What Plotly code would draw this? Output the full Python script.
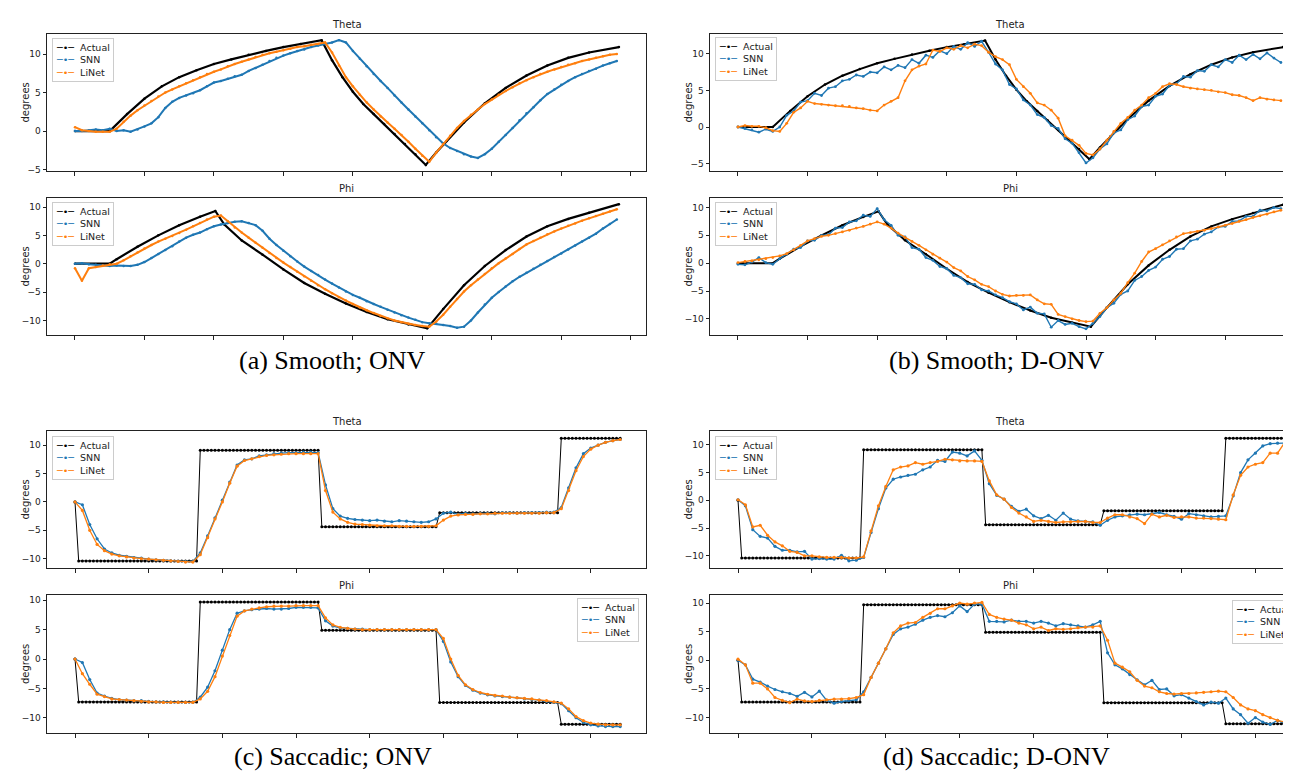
import plotly.graph_objects as go

# ------------------------------------------------------------------ data
# sample positions (x in tick units)
smooth_x = [round(i * 0.1, 1) for i in range(79)]
sacc_x = [round(i * 0.1, 1) for i in range(75)]
sacc_actual_x = [round(i * 0.05, 2) for i in range(149)]

# smooth pursuit ground truth (vertices)
smooth_theta_actual_x = [0, 0.5, 0.75, 1.0, 1.25, 1.5, 1.75, 2.0, 2.25, 2.5, 2.75, 3.0, 3.25, 3.55, 3.7, 3.85,
                         4.0, 4.15, 4.3, 4.45, 4.6, 4.75, 4.9, 5.05, 5.2, 5.35, 5.6, 5.9, 6.2, 6.5, 6.8, 7.1,
                         7.4, 7.83]
smooth_theta_actual = [0, 0, 2.2, 4.2, 5.8, 7.0, 7.9, 8.7, 9.3, 9.9, 10.4, 10.9, 11.3, 11.8, 9.2, 7.0,
                       5.1, 3.5, 2.2, 0.9, -0.4, -1.7, -3.0, -4.4, -2.8, -1.3, 1.1, 3.6, 5.6, 7.2, 8.5, 9.5,
                       10.2, 10.9]
smooth_phi_actual_x = [0, 0.5, 0.6, 0.9, 1.2, 1.5, 1.8, 2.02, 2.15, 2.4, 2.7, 3.0, 3.3, 3.6, 3.9, 4.2, 4.5,
                       4.8, 5.07, 5.3, 5.6, 5.9, 6.2, 6.5, 6.8, 7.1, 7.4, 7.83]
smooth_phi_actual = [0, 0, 0.8, 3.0, 5.0, 6.8, 8.3, 9.3, 6.9, 4.1, 1.6, -1.0, -3.4, -5.3, -7.0, -8.5, -9.8,
                     -10.7, -11.4, -8.0, -3.8, -0.4, 2.4, 4.8, 6.6, 7.9, 9.0, 10.5]

# (a) Smooth; ONV
a_theta_snn = [0.0, 0.0, 0.1, 0.2, 0.1, 0.3, 0.0, 0.1, -0.1, 0.2,
               0.6, 1.0, 1.8, 3.0, 3.8, 4.3, 4.6, 4.9, 5.3, 5.8,
               6.3, 6.5, 6.8, 7.1, 7.3, 7.8, 8.2, 8.6, 9.1, 9.5,
               9.8, 10.1, 10.4, 10.6, 10.9, 11.1, 11.3, 11.5, 11.8, 11.5,
               10.4, 9.4, 8.4, 7.4, 6.5, 5.6, 4.6, 3.7, 2.8, 1.9,
               1.0, 0.1, -0.8, -1.6, -2.2, -2.6, -3.0, -3.3, -3.5, -3.0,
               -2.3, -1.4, -0.5, 0.4, 1.4, 2.3, 3.1, 4.0, 4.8, 5.4,
               6.0, 6.5, 7.0, 7.4, 7.8, 8.1, 8.5, 8.8, 9.1]
a_theta_linet = [0.5, 0.1, 0.0, -0.1, -0.1, -0.1, 0.3, 1.2, 2.0, 2.7,
                 3.3, 3.9, 4.5, 5.0, 5.4, 5.8, 6.2, 6.6, 7.0, 7.4,
                 7.7, 8.0, 8.4, 8.7, 9.0, 9.3, 9.6, 9.9, 10.1, 10.3,
                 10.5, 10.7, 10.9, 11.0, 11.2, 11.3, 11.5, 10.2, 8.5, 7.0,
                 5.8, 4.7, 3.7, 2.8, 1.9, 1.1, 0.3, -0.5, -1.4, -2.3,
                 -3.2, -4.0, -2.8, -1.7, -0.6, 0.4, 1.3, 2.1, 2.8, 3.5,
                 4.1, 4.7, 5.2, 5.7, 6.2, 6.6, 7.0, 7.4, 7.7, 8.0,
                 8.3, 8.6, 8.8, 9.1, 9.3, 9.5, 9.7, 9.9, 10.0]
a_phi_snn = [0.0, 0.1, -0.1, -0.2, -0.3, -0.4, -0.3, -0.4, -0.4, -0.2,
             0.3, 1.0, 1.7, 2.4, 3.1, 3.9, 4.6, 5.1, 5.5, 6.1,
             6.6, 6.9, 7.2, 7.4, 7.5, 7.2, 6.8, 5.8, 4.4, 3.3,
             2.3, 1.3, 0.4, -0.5, -1.3, -2.0, -2.8, -3.5, -4.2, -4.9,
             -5.5, -6.0, -6.6, -7.1, -7.6, -8.1, -8.6, -9.1, -9.5, -9.9,
             -10.3, -10.5, -10.6, -10.8, -11.0, -11.3, -11.1, -10.0, -8.6, -7.2,
             -6.0, -5.0, -4.0, -3.1, -2.3, -1.6, -0.9, -0.2, 0.5, 1.2,
             1.8, 2.5, 3.2, 3.9, 4.6, 5.3, 6.2, 7.0, 7.8]
a_phi_linet = [-0.8, -3.0, -0.8, -0.6, -0.3, -0.1, 0.0, 0.6, 1.3, 2.0,
               2.7, 3.3, 3.9, 4.4, 4.9, 5.4, 6.0, 6.6, 7.2, 7.8,
               8.3, 8.5, 7.5, 6.4, 5.5, 4.6, 3.7, 2.8, 1.9, 1.0,
               0.2, -0.6, -1.4, -2.2, -3.0, -3.8, -4.5, -5.2, -5.9, -6.5,
               -7.1, -7.7, -8.2, -8.7, -9.2, -9.6, -10.0, -10.3, -10.6, -10.8,
               -11.0, -11.1, -10.2, -9.0, -7.6, -6.2, -4.9, -3.8, -2.8, -1.8,
               -0.8, 0.1, 0.9, 1.7, 2.6, 3.4, 4.0, 4.6, 5.2, 5.7,
               6.2, 6.7, 7.1, 7.6, 8.0, 8.4, 8.8, 9.2, 9.6]

# (b) Smooth; D-ONV
b_theta_snn = [0.0, -0.2, -0.4, -0.7, -0.3, -0.6, 0.0, 1.6, 2.2, 3.4,
               3.6, 4.6, 4.3, 5.3, 5.5, 6.3, 6.5, 7.1, 6.9, 7.5,
               7.4, 8.2, 7.8, 8.4, 8.1, 9.2, 8.7, 9.8, 9.5, 10.4,
               10.0, 11.0, 10.6, 11.5, 11.0, 11.7, 10.2, 8.6, 7.8, 5.8,
               5.2, 3.7, 3.0, 1.7, 1.3, 0.2, -0.2, -1.6, -2.2, -3.5,
               -4.9, -4.2, -3.0, -2.3, -0.8, -0.4, 1.0, 1.5, 2.8, 3.0,
               4.2, 4.5, 5.7, 5.9, 6.9, 6.8, 7.7, 7.6, 8.5, 8.2,
               9.2, 8.8, 9.8, 9.2, 9.9, 9.3, 10.1, 9.4, 8.8]
b_theta_linet = [0.0, 0.2, 0.1, 0.1, -0.1, -0.5, -0.6, 0.5, 2.0, 2.6,
                 3.5, 3.2, 3.1, 3.0, 2.9, 2.9, 2.8, 2.6, 2.5, 2.3,
                 2.2, 3.0, 3.5, 4.0, 6.3, 7.8, 8.3, 8.6, 10.5, 10.3,
                 10.8, 10.6, 11.1, 10.8, 11.3, 11.1, 10.2, 9.6, 9.2, 8.5,
                 6.5, 5.5, 4.6, 3.3, 3.0, 2.3, 1.2, -1.2, -1.8, -2.5,
                 -3.6, -3.8, -3.0, -1.8, -0.6, 0.5, 1.3, 2.3, 3.0, 4.0,
                 4.6, 5.5, 5.9, 5.8, 5.5, 5.3, 5.2, 5.1, 5.0, 4.8,
                 4.7, 4.4, 4.3, 4.0, 3.6, 4.0, 3.8, 3.7, 3.6]
b_phi_snn = [-0.2, -0.3, 0.2, 1.0, 0.1, -0.2, 0.8, 1.6, 2.5, 2.8,
             4.0, 4.1, 5.0, 5.1, 6.3, 6.4, 7.4, 7.6, 8.6, 8.4,
             9.8, 7.8, 6.8, 5.0, 4.7, 2.8, 2.5, 1.0, 0.5, -0.6,
             -1.0, -2.2, -2.6, -3.7, -3.8, -4.8, -5.0, -5.7, -6.2, -6.9,
             -7.3, -8.4, -7.9, -9.0, -9.1, -11.5, -10.3, -11.0, -10.8, -11.4,
             -11.8, -10.8, -9.6, -8.0, -7.2, -5.6, -5.0, -3.1, -2.4, -1.3,
             -0.7, 0.7, 1.2, 2.5, 2.6, 4.0, 4.3, 5.2, 5.6, 6.5,
             6.6, 7.5, 7.6, 8.4, 8.4, 9.5, 9.4, 10.0, 9.8]
b_phi_linet = [0.1, 0.3, 0.4, 0.6, 0.8, 1.0, 1.3, 1.7, 2.4, 3.2,
               4.0, 4.4, 4.8, 5.0, 5.3, 5.6, 5.9, 6.3, 6.6, 7.0,
               7.4, 7.0, 6.3, 5.4, 4.6, 3.9, 3.2, 2.4, 1.6, 0.9,
               0.2, -0.8, -1.4, -2.4, -3.0, -3.8, -4.2, -5.0, -5.6, -5.9,
               -5.8, -5.8, -5.7, -6.6, -7.3, -7.4, -9.2, -9.6, -10.0, -10.3,
               -10.5, -10.4, -9.0, -8.0, -6.6, -5.4, -3.5, -1.8, 0.3, 2.0,
               2.6, 3.3, 4.0, 4.7, 5.3, 5.5, 5.7, 5.9, 6.2, 6.5,
               6.8, 7.1, 7.5, 7.8, 8.2, 8.5, 8.8, 9.2, 9.5]

# saccadic ground truth: step levels and their sample counts
sacc_counts = [1, 33, 33, 32, 33, 17]
sacc_theta_levels = [0, -10.4, 9.1, -4.4, -1.9, 11.2]
sacc_phi_levels = [0, -7.3, 9.7, 4.9, -7.4, -11.1]

# (c) Saccadic; ONV
c_theta_snn = [0, -0.5, -4.0, -6.5, -8.3, -9.0, -9.4, -9.6, -9.8, -9.9,
               -10.1, -10.2, -10.3, -10.4, -10.5, -10.5, -10.5, -9.0, -6.0, -2.8,
               0.3, 3.5, 6.5, 7.4, 7.6, 8.1, 8.3, 8.5, 8.6, 8.7,
               8.7, 8.8, 8.8, 8.7, 3.0, -1.2, -2.5, -2.9, -3.1, -3.2,
               -3.3, -3.2, -3.4, -3.5, -3.3, -3.4, -3.5, -3.6, -3.5, -3.0,
               -2.0, -1.8, -2.2, -2.0, -2.1, -2.0, -2.0, -2.1, -1.9, -1.9,
               -2.0, -1.9, -1.9, -1.9, -1.8, -1.8, -1.0, 2.5, 6.0, 8.5,
               9.5, 10.0, 10.5, 10.8, 11.0]
c_theta_linet = [0, -1.5, -5.0, -7.5, -8.6, -9.2, -9.5, -9.7, -9.9, -10.0,
                 -10.1, -10.2, -10.3, -10.4, -10.5, -10.6, -10.6, -9.3, -6.3, -3.0,
                 0.0, 3.3, 6.3, 7.3, 7.6, 8.0, 8.2, 8.3, 8.4, 8.5,
                 8.5, 8.5, 8.5, 8.5, 2.0, -1.8, -3.0, -3.6, -3.9, -4.0,
                 -4.1, -4.2, -4.2, -4.2, -4.3, -4.3, -4.3, -4.3, -4.3, -4.2,
                 -3.2, -2.5, -2.3, -2.2, -2.2, -2.1, -2.1, -2.0, -2.0, -2.0,
                 -2.0, -2.0, -2.0, -2.0, -1.9, -1.9, -1.2, 2.0, 5.5, 8.0,
                 9.3, 10.0, 10.5, 10.8, 11.0]
c_phi_snn = [0, -0.6, -3.5, -5.8, -6.3, -6.7, -6.9, -7.0, -7.1, -7.1,
             -7.2, -7.3, -7.3, -7.4, -7.4, -7.4, -7.4, -6.5, -4.8, -2.0,
             1.5, 5.0, 7.8, 8.2, 8.4, 8.5, 8.6, 8.5, 8.5, 8.6,
             8.8, 8.8, 8.8, 8.7, 6.5, 5.6, 5.3, 5.2, 5.1, 5.1,
             5.0, 5.0, 5.0, 5.0, 5.0, 5.0, 5.0, 5.0, 5.0, 5.0,
             3.0, -0.5, -3.0, -4.5, -5.3, -5.8, -6.1, -6.3, -6.4, -6.5,
             -6.6, -6.8, -6.9, -7.0, -7.2, -7.4, -7.6, -8.8, -10.0, -10.8,
             -11.2, -11.4, -11.5, -11.5, -11.5]
c_phi_linet = [0, -2.5, -4.3, -6.0, -6.4, -6.8, -6.9, -7.0, -7.1, -7.2,
               -7.3, -7.3, -7.4, -7.4, -7.4, -7.4, -7.4, -6.8, -5.5, -3.0,
               0.5, 4.0, 7.3, 8.2, 8.5, 8.7, 8.9, 9.0, 9.0, 9.0,
               9.1, 9.1, 9.1, 9.1, 7.0, 5.8, 5.4, 5.2, 5.1, 5.0,
               5.0, 5.0, 5.0, 5.0, 5.0, 5.0, 5.0, 5.0, 5.0, 5.0,
               3.5, 0.0, -2.8, -4.4, -5.2, -5.7, -6.0, -6.2, -6.3, -6.5,
               -6.6, -6.7, -6.8, -7.0, -7.1, -7.3, -7.5, -8.5, -9.8, -10.5,
               -10.9, -11.1, -11.2, -11.2, -11.2]

# (d) Saccadic; D-ONV
d_theta_snn = [0.1, -1.0, -5.3, -6.5, -6.8, -8.3, -9.0, -9.0, -9.3, -9.2,
               -10.6, -10.5, -10.6, -10.6, -9.9, -10.9, -10.8, -10.3, -5.8, -1.5,
               2.2, 3.8, 4.2, 4.5, 4.7, 5.5, 6.0, 7.2, 7.0, 8.7,
               8.5, 8.0, 8.9, 7.2, 3.0, 0.9, 0.2, -1.1, -2.0, -1.6,
               -2.8, -3.3, -2.7, -3.6, -2.3, -3.4, -3.7, -3.8, -3.9, -4.5,
               -3.6, -3.0, -2.8, -2.6, -2.5, -2.6, -2.4, -2.2, -2.6, -2.9,
               -3.4, -2.4, -2.6, -2.8, -3.0, -2.9, -2.8, 0.8, 5.0, 7.3,
               8.5, 9.8, 10.2, 10.3, 10.3]
d_theta_linet = [0.1, -0.8, -4.8, -4.5, -6.3, -7.5, -8.2, -9.2, -9.4, -10.0,
                 -10.0, -10.2, -10.3, -10.3, -10.3, -10.4, -10.4, -10.2, -5.5, -1.0,
                 2.5, 5.5, 6.0, 6.2, 6.8, 6.5, 6.8, 7.0, 7.4, 7.3,
                 7.1, 7.1, 7.1, 7.0, 3.5, 1.0, 0.2, -1.3, -2.3, -3.0,
                 -3.8, -3.6, -3.8, -4.0, -3.9, -3.9, -3.8, -3.8, -4.0, -4.0,
                 -3.2, -2.6, -2.6, -3.0, -3.3, -4.2, -2.5, -3.0, -2.7, -3.1,
                 -3.0, -3.0, -3.2, -3.2, -3.3, -3.4, -3.5, 1.0, 4.5, 6.0,
                 6.5, 6.8, 8.5, 8.5, 10.5]
d_phi_snn = [0, -0.8, -3.3, -3.8, -4.5, -5.1, -5.5, -5.8, -6.3, -5.6,
             -6.4, -5.4, -7.0, -7.5, -7.2, -7.0, -6.9, -5.5, -3.0, -0.5,
             2.0, 4.5, 5.5, 5.8, 6.3, 7.0, 7.5, 7.8, 7.6, 8.3,
             9.5, 8.5, 9.8, 9.8, 6.8, 6.8, 6.7, 7.0, 6.8, 6.8,
             6.5, 6.8, 6.5, 6.0, 6.4, 6.2, 6.0, 5.8, 6.2, 6.8,
             1.3, -0.8, -1.5, -2.5, -3.4, -4.3, -3.5, -5.1, -5.0, -6.2,
             -6.0, -6.6, -7.2, -7.8, -7.3, -7.5, -6.6, -8.5, -9.5, -11.0,
             -10.0, -10.8, -11.2, -10.5, -11.0]
d_phi_linet = [0.2, -0.8, -4.0, -4.0, -5.0, -6.5, -7.0, -7.4, -6.8, -7.1,
               -7.2, -7.0, -6.9, -6.8, -6.8, -6.7, -6.5, -6.0, -3.0, -0.5,
               2.0, 4.8, 6.0, 6.5, 6.6, 7.5, 8.2, 9.0, 9.0, 9.5,
               10.0, 9.8, 10.0, 10.1, 8.0, 7.5, 7.2, 7.0, 6.5, 6.2,
               5.5, 5.8, 5.2, 5.5, 5.4, 5.5, 5.7, 5.8, 5.8, 6.0,
               3.5, -0.5, -1.2, -2.0, -3.5, -4.5, -4.8, -5.5, -5.8, -5.9,
               -5.8, -5.8, -5.7, -5.6, -5.5, -5.4, -5.5, -6.5, -7.8, -8.5,
               -8.8, -9.5, -10.0, -10.5, -10.8]

series_names = ["Actual", "SNN", "LiNet"]
panel_titles = ["Theta", "Phi"]
captions = ["(a) Smooth; ONV", "(b) Smooth; D-ONV", "(c) Saccadic; ONV", "(d) Saccadic; D-ONV"]


def expand_steps(levels, counts):
    out = []
    for lv, n in zip(levels, counts):
        out.extend([lv] * n)
    return out


sacc_theta_actual = expand_steps(sacc_theta_levels, sacc_counts)
sacc_phi_actual = expand_steps(sacc_phi_levels, sacc_counts)

# ------------------------------------------------------------------ layout helpers
W, H = 1291, 773
C_ACT, C_SNN, C_LIN = "#000000", "#1f77b4", "#ff7f0e"
SERIES_COLORS = [C_ACT, C_SNN, C_LIN]
FONT = "DejaVu Sans"


def px_x(p):
    return p / W


def px_y(p):
    return 1 - p / H


LEFT = [px_x(39), px_x(638)]
RIGHT = [px_x(702), 1.0]
ROWS = {"t1": [px_y(163), px_y(26)], "p1": [px_y(327), px_y(190)],
        "t2": [px_y(560), px_y(423)], "p2": [px_y(725), px_y(587)]}

panels = [
    dict(xd=LEFT, yd=ROWS["t1"], xr=[-0.403, 8.22], yr=[-5.19, 12.6], title=panel_titles[0],
         ax=smooth_theta_actual_x, ay=smooth_theta_actual, rx=smooth_x, snn=a_theta_snn, lin=a_theta_linet,
         style="sa", leg=(44, 30)),
    dict(xd=LEFT, yd=ROWS["p1"], xr=[-0.403, 8.22], yr=[-12.57, 11.59], title=panel_titles[1],
         ax=smooth_phi_actual_x, ay=smooth_phi_actual, rx=smooth_x, snn=a_phi_snn, lin=a_phi_linet,
         style="sa", leg=(44, 194)),
    dict(xd=RIGHT, yd=ROWS["t1"], xr=[-0.402, 8.06], yr=[-6.0, 12.69], title=panel_titles[0],
         ax=smooth_theta_actual_x, ay=smooth_theta_actual, rx=smooth_x, snn=b_theta_snn, lin=b_theta_linet,
         style="sb", leg=(707, 29)),
    dict(xd=RIGHT, yd=ROWS["p1"], xr=[-0.402, 8.06], yr=[-12.9, 11.7], title=panel_titles[1],
         ax=smooth_phi_actual_x, ay=smooth_phi_actual, rx=smooth_x, snn=b_phi_snn, lin=b_phi_linet,
         style="sb", leg=(707, 194)),
    dict(xd=LEFT, yd=ROWS["t2"], xr=[-0.38, 7.75], yr=[-11.65, 12.5], title=panel_titles[0],
         ax=sacc_actual_x, ay=sacc_theta_actual, rx=sacc_x, snn=c_theta_snn, lin=c_theta_linet,
         style="sc", leg=(44, 428)),
    dict(xd=LEFT, yd=ROWS["p2"], xr=[-0.38, 7.75], yr=[-12.6, 10.9], title=panel_titles[1],
         ax=sacc_actual_x, ay=sacc_phi_actual, rx=sacc_x, snn=c_phi_snn, lin=c_phi_linet,
         style="sc", leg=(569, 590)),
    dict(xd=RIGHT, yd=ROWS["t2"], xr=[-0.379, 7.59], yr=[-12.2, 12.49], title=panel_titles[0],
         ax=sacc_actual_x, ay=sacc_theta_actual, rx=sacc_x, snn=d_theta_snn, lin=d_theta_linet,
         style="sc", leg=(707, 428)),
    dict(xd=RIGHT, yd=ROWS["p2"], xr=[-0.379, 7.59], yr=[-12.7, 11.4], title=panel_titles[1],
         ax=sacc_actual_x, ay=sacc_phi_actual, rx=sacc_x, snn=d_phi_snn, lin=d_phi_linet,
         style="sc", leg=(1224, 592)),
]

STYLES = {
    "sa": dict(act=(2.2, 2.5), resp=(2.0, 2.5)),
    "sb": dict(act=(2.0, 2.5), resp=(1.4, 2.8)),
    "sc": dict(act=(1.0, 3.0), resp=(1.3, 3.2)),
}

fig = go.Figure()
layout = dict(width=W, height=H, margin=dict(l=0, r=0, t=0, b=0, autoexpand=False),
              paper_bgcolor="white", plot_bgcolor="white", font=dict(family=FONT, color="#222"),
              hovermode=False, showlegend=False)
annotations = []

legend_text = "<br>".join(
    f"<span style='color:{c}'>─•─</span>  {n}" for n, c in zip(series_names, SERIES_COLORS))

for i, p in enumerate(panels, start=1):
    xa = "x" if i == 1 else f"x{i}"
    ya = "y" if i == 1 else f"y{i}"
    st = STYLES[p["style"]]
    for name, xs, ys, col, (lw, ms) in [
        (series_names[0], p["ax"], p["ay"], C_ACT, st["act"]),
        (series_names[1], p["rx"], p["snn"], C_SNN, st["resp"]),
        (series_names[2], p["rx"], p["lin"], C_LIN, st["resp"]),
    ]:
        fig.add_trace(go.Scatter(x=xs, y=ys, name=name, mode="lines+markers",
                                 line=dict(color=col, width=lw),
                                 marker=dict(color=col, size=ms, symbol="circle", line=dict(width=0)),
                                 xaxis=xa, yaxis=ya, showlegend=False))
    axkey = "xaxis" if i == 1 else f"xaxis{i}"
    aykey = "yaxis" if i == 1 else f"yaxis{i}"
    common = dict(showline=True, linecolor="#222", linewidth=1, mirror=True, showgrid=False,
                  zeroline=False, ticks="outside", ticklen=3.5, tickwidth=0.8, tickcolor="#222")
    layout[axkey] = dict(domain=p["xd"], range=p["xr"], anchor=ya, tick0=0, dtick=1,
                         showticklabels=False, **common)
    layout[aykey] = dict(domain=p["yd"], range=p["yr"], anchor=xa, tick0=0, dtick=5,
                         tickfont=dict(size=9, family=FONT, color="#222"), **common)
    # legend box (text with coloured line keys)
    annotations.append(dict(text=legend_text, x=px_x(p["leg"][0]), y=px_y(p["leg"][1]),
                            xref="paper", yref="paper", xanchor="left", yanchor="top", align="left",
                            showarrow=False, bgcolor="rgba(255,255,255,0.85)", bordercolor="#cccccc",
                            borderwidth=1, borderpad=3, font=dict(size=9.5, family=FONT, color="#222")))
    # subplot title
    center_px = (39 + 638) / 2 if p["xd"] is LEFT else 1002
    top = p["yd"][1]
    annotations.append(dict(text=p["title"], x=px_x(center_px), y=top + 2 / H, xref="paper", yref="paper",
                            xanchor="center", yanchor="bottom", showarrow=False,
                            font=dict(size=10, family=FONT, color="#222")))
    # y label
    lab_x = 17 if p["xd"] is LEFT else 680
    annotations.append(dict(text="degrees", x=px_x(lab_x), y=(p["yd"][0] + p["yd"][1]) / 2,
                            xref="paper", yref="paper", xanchor="center", yanchor="middle",
                            textangle=-90, showarrow=False, font=dict(size=10, family=FONT, color="#222")))

cap_pos = [(324, 352), (988, 352), (325, 748), (988, 748)]
for txt, (cx, cy) in zip(captions, cap_pos):
    annotations.append(dict(text=txt, x=px_x(cx), y=px_y(cy), xref="paper", yref="paper",
                            xanchor="center", yanchor="middle", showarrow=False,
                            font=dict(size=26, family="Liberation Serif", color="#000")))

layout["annotations"] = annotations
fig.update_layout(**layout)
fig.write_html("out.html", config={"displayModeBar": False})
